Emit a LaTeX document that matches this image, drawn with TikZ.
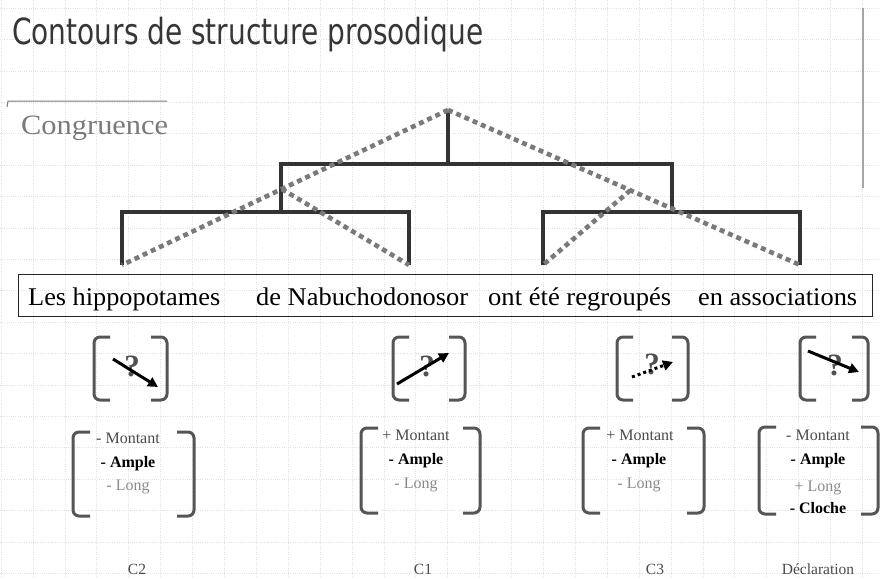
\documentclass[tikz,border=0pt]{standalone}
\usepackage{fontspec}
\usepackage{graphicx}
\setmainfont{Liberation Serif}
\newfontfamily\titlefont{DejaVu Sans}
\usetikzlibrary{arrows.meta,calc}
\definecolor{treeline}{HTML}{333333}
\definecolor{dotline}{HTML}{7A7A7A}
\definecolor{brk}{HTML}{555555}
\definecolor{gridc}{HTML}{E2E2E2}
\definecolor{titlec}{HTML}{363636}
\definecolor{congc}{HTML}{7A7A7A}
\definecolor{montc}{HTML}{4A4A4A}
\definecolor{longc}{HTML}{8A8A8A}
\definecolor{qc}{HTML}{505050}
\begin{document}
\begin{tikzpicture}[x=1pt,y=-1pt,
  gridline/.style={draw=gridc,line width=0.6pt,dash pattern=on 1pt off 1.2pt},
  treepath/.style={draw=treeline,line width=4.6pt,line join=miter},
  dotpath/.style={draw=dotline,line width=4.6pt,dash pattern=on 5pt off 4pt},
  brkpath/.style={draw=brk,line width=3pt,rounded corners=6pt},
  arr/.style={draw=black,line width=3pt,-{Triangle[length=10pt,width=10pt]}},
  plain/.style={inner sep=0pt,anchor=base},
  featm/.style={plain,text=montc,font=\fontsize{16}{18}\selectfont},
  feata/.style={plain,text=black,font=\fontsize{16}{18}\selectfont\bfseries},
  featl/.style={plain,text=longc,font=\fontsize{16}{18}\selectfont},
  lab/.style={plain,text=montc,font=\fontsize{15.5}{17}\selectfont},
  qmark/.style={inner sep=0pt,text=qc,font=\fontsize{31}{33}\selectfont\bfseries},
  word/.style={inner sep=0pt,anchor=base west,text=black,font=\fontsize{25.5}{28}\selectfont}]
\useasboundingbox (0,0) rectangle (880,578);
\fill[white] (0,0) rectangle (880,578);
% background grid
\foreach \i in {0,...,27} {\draw[gridline] ({1+31.9*\i},0) -- ({1+31.9*\i},578);}
\foreach \j in {0,...,18} {\draw[gridline] (0,{8+31.4*\j}) -- (880,{8+31.4*\j});}
% title
\node[inner sep=0pt,anchor=base west,text=titlec,font=\titlefont\fontsize{36}{40}\selectfont] (title) at (12,45) {\resizebox{471pt}{\height}{Contours de structure prosodique}};
% congruence
\coordinate (rl1) at (8,101);
\coordinate (rl2) at (167,101);
\coordinate (rl0) at (7,107);
\draw[congc,line width=1pt] (rl0) -- (rl1) -- (rl2);
\node[inner sep=0pt,anchor=base west,text=congc,font=\fontsize{28}{30}\selectfont] (cong) at (21,134) {\resizebox{147pt}{\height}{Congruence}};
\coordinate (vr1) at (863,8);
\coordinate (vr2) at (863,188);
\draw[gray!70,line width=1.5pt] (vr1) -- (vr2);
% tree coordinates
\coordinate (top) at (448,110);
\coordinate (tmid) at (448,164);
\coordinate (l1) at (281,164);
\coordinate (r1) at (672,164);
\coordinate (l2) at (281,212);
\coordinate (r2) at (672,212);
\coordinate (a) at (122,265);
\coordinate (b) at (409,265);
\coordinate (c) at (543,265);
\coordinate (d) at (800,265);
\draw[treepath] (top) -- (tmid);
\draw[treepath] (l2) -- (l1) -- (r1) -- (r2);
\draw[treepath] (a) -- (a |- l2) -- (b |- l2) -- (b);
\draw[treepath] (c) -- (c |- r2) -- (d |- r2) -- (d);
% dotted lines
\draw[dotpath] (top) -- (a);
\draw[dotpath] (top) -- (d);
\draw[dotpath] ($(top)!0.51!(a)$) -- (b);
\draw[dotpath] ($(top)!0.518!(d)$) -- (c);
% sentence box
\node[draw=black!85,line width=0.9pt,minimum width=854pt,minimum height=42pt,inner sep=0pt,anchor=north west] (sbox) at (18,274) {};
\node[word] (w1) at (28,305) {\resizebox{192pt}{\height}{Les hippopotames}};
\node[word] (w2) at (256,305) {\resizebox{212pt}{\height}{de Nabuchodonosor}};
\node[word] (w3) at (488,305) {\resizebox{183pt}{\height}{ont été regroupés}};
\node[word] (w4) at (698,305) {\resizebox{159pt}{\height}{en associations}};
% small brackets
\foreach \L/\R in {94/167,393/465,617/688,800/868} {
  \draw[brkpath] (\L+16,337) -- (\L,337) -- (\L,400) -- (\L+16,400);
  \draw[brkpath] (\R-16,337) -- (\R,337) -- (\R,400) -- (\R-16,400);
}
% question marks and arrows
\node[qmark] (q1) at (132,366) {?};
\node[qmark] (q2) at (427,366) {?};
\node[qmark] (q3) at (652,364) {?};
\node[qmark] (q4) at (835,365) {?};
\coordinate (s1) at (113,359); \coordinate (e1) at (158,387);
\coordinate (s2) at (397,384); \coordinate (e2) at (449,353);
\coordinate (s3) at (632,377); \coordinate (e3) at (673,362);
\coordinate (s4) at (808,351); \coordinate (e4) at (859,372);
\draw[arr] (s1) -- (e1);
\draw[arr] (s2) -- (e2);
\draw[arr,dash pattern=on 3pt off 3pt] (s3) -- (e3);
\draw[arr] (s4) -- (e4);
% big brackets
\foreach \L/\R/\T/\B in {73/194/432/516,361/480/428/513,583/704/428/513,759/878/427/514} {
  \draw[brkpath] (\L+17,\T) -- (\L,\T) -- (\L,\B) -- (\L+17,\B);
  \draw[brkpath] (\R-17,\T) -- (\R,\T) -- (\R,\B) -- (\R-17,\B);
}
% features
\node[featm] (m1) at (128,443) {- Montant};
\node[feata] (a1) at (128,467) {- Ample};
\node[featl] (g1) at (128,490) {- Long};
\node[featm] (m2) at (416,440) {+ Montant};
\node[feata] (a2) at (416,464) {- Ample};
\node[featl] (g2) at (416,488) {- Long};
\node[featm] (m3) at (640,440) {+ Montant};
\node[feata] (a3) at (639,464) {- Ample};
\node[featl] (g3) at (639,488) {- Long};
\node[featm] (m4) at (818,440) {- Montant};
\node[feata] (a4) at (818,464) {- Ample};
\node[featl] (g4) at (818,491) {+ Long};
\node[feata] (k4) at (818,513) {- Cloche};
% labels
\node[lab] (c2) at (137,574) {C2};
\node[lab] (c1) at (423,574) {C1};
\node[lab] (c3) at (655,574) {C3};
\node[lab] (dl) at (818,574) {Déclaration};
\end{tikzpicture}
\end{document}
